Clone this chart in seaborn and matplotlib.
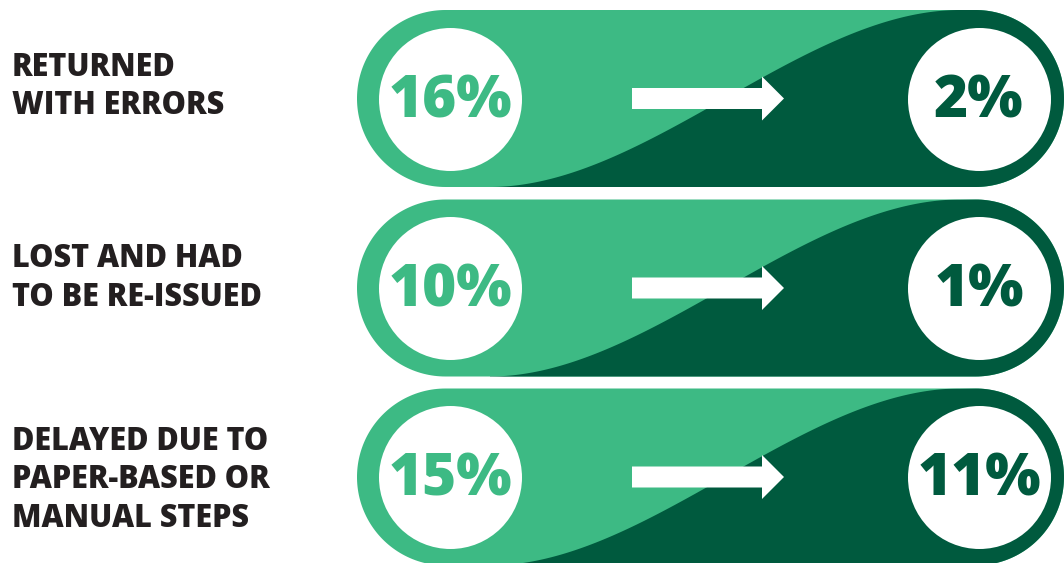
import numpy as np
import pandas as pd
import matplotlib
matplotlib.use("Agg")
import matplotlib.pyplot as plt
from matplotlib.patches import Polygon
import seaborn as sns

# ---- data ----
labels = ["RETURNED\nWITH ERRORS", "LOST AND HAD\nTO BE RE-ISSUED", "DELAYED DUE TO\nPAPER-BASED OR\nMANUAL STEPS"]
before_pct = [16, 10, 15]
after_pct = [2, 1, 11]

LIGHT = "#3DBA84"
DARK = "#005A3E"
TEXT = "#231F20"

sns.set_theme(style="white")
plt.rcParams["font.family"] = ["Open Sans", "DejaVu Sans"]

fig = plt.figure(figsize=(10.64, 5.63), dpi=100)
ax = fig.add_axes([0, 0, 1, 1])

row_centers = [98.5, 288, 477]
label_baselines = [76, 267, 450]
line_step = 38.5
half_h = 88.5
x_left, x_right = 357, 1064
cx_left, cx_right = 450, 979
circ_r = 71.5


def stadium(xl, xr, yc, r, n=100):
    a1 = np.linspace(np.pi / 2, 3 * np.pi / 2, n)
    left = np.column_stack([xl + r + r * np.cos(a1), yc + r * np.sin(a1)])
    a2 = np.linspace(-np.pi / 2, np.pi / 2, n)
    right = np.column_stack([xr - r + r * np.cos(a2), yc + r * np.sin(a2)])
    return np.vstack([left, right])


for yc in row_centers:
    top, bot = yc - half_h, yc + half_h
    pill = Polygon(stadium(x_left, x_right, yc, half_h), closed=True,
                   fc=LIGHT, ec="none", zorder=1)
    ax.add_patch(pill)
    t = np.linspace(0, 1, 200)
    xs = 490 + t * 470
    s = 3 * t**2 - 2 * t**3
    ys = bot - s * (2 * half_h)
    pts = np.column_stack([xs, ys]).tolist() + [[1200, top - 5], [1200, bot + 5], [490, bot + 5]]
    dark = Polygon(pts, closed=True, fc=DARK, ec="none", zorder=2)
    ax.add_patch(dark)
    dark.set_clip_path(pill)
    arr = Polygon([[632, yc - 10.5], [762, yc - 10.5], [762, yc - 22], [784, yc],
                   [762, yc + 22], [762, yc + 10.5], [632, yc + 10.5]],
                  closed=True, fc="white", ec="none", zorder=3)
    ax.add_patch(arr)

df = pd.DataFrame({
    "x": [cx_left] * 3 + [cx_right] * 3,
    "y": row_centers * 2,
})
diam_pt = 2 * circ_r * 72 / 100
sns.scatterplot(data=df, x="x", y="y", s=diam_pt**2, color="white",
                linewidth=0, ax=ax, zorder=4, legend=False)
ax.set_xlim(0, 1064)
ax.set_ylim(563, 0)
ax.axis("off")

for yc, lab, base, b, a in zip(row_centers, labels, label_baselines, before_pct, after_pct):
    ax.text(cx_left, yc + 3, f"{b}%", ha="center", va="center", fontsize=42,
            fontweight=800, color=LIGHT, zorder=5)
    ax.text(cx_right, yc + 3, f"{a}%", ha="center", va="center", fontsize=42,
            fontweight=800, color=DARK, zorder=5)
    for i, line in enumerate(lab.split("\n")):
        ax.text(12, base + i * line_step, line, ha="left", va="baseline", fontsize=22,
                fontweight=800, color=TEXT, zorder=5)

fig.savefig("out.png", dpi=100, facecolor="white")
